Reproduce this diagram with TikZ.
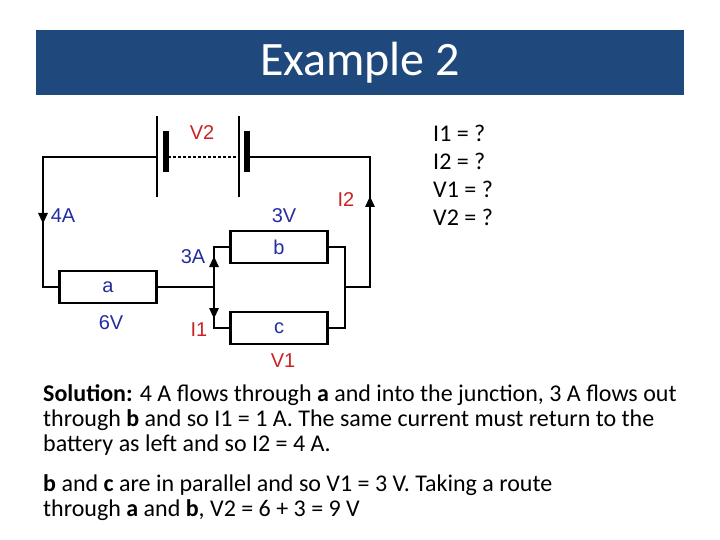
\documentclass[tikz,border=0pt]{standalone}
\usepackage{fontspec}
\setmainfont{Carlito}
\newfontfamily\circfont{Liberation Sans}
\usetikzlibrary{arrows.meta}
\definecolor{titleblue}{RGB}{31,73,125}
\definecolor{lblblue}{RGB}{35,45,160}
\definecolor{lblred}{RGB}{200,35,35}
\begin{document}
\begin{tikzpicture}[x=1pt, y=-1pt,
        wire/.style={draw, line width=2.8pt},
        plate/.style={draw, line width=2.6pt},
        thick plate/.style={draw, line width=6pt},
        res/.style={rectangle, draw, line width=2.8pt, minimum width=97pt, minimum height=32pt, inner sep=0pt, font=\circfont\fontsize{20}{20}\selectfont, text=lblblue},
        tip/.style={draw, line width=2.8pt, -{Triangle[length=11pt, width=9pt]}},
        vlabel/.style={font=\circfont\fontsize{20}{20}\selectfont, text=lblblue},
        qlabel/.style={font=\circfont\fontsize{20}{20}\selectfont, text=lblred},
        body/.style={anchor=west, inner sep=0pt, font=\fontsize{24}{24}\selectfont}
    ]
    \useasboundingbox (0,0) rectangle (720,540);
    % Title
    \fill[titleblue] (36,30) rectangle (684,95);
    \node[text=white, font=\fontsize{48}{48}\selectfont] (title) at (360,63) {Example 2};

    % Resistors
    \node[res] (a) at (108,287) {a};
    \node[res] (b) at (279,247) {b};
    \node[res] (c) at (279,328) {c};

    % Corners and junctions
    \coordinate (tl) at (43,157);
    \coordinate (tr) at (370,157);
    \coordinate (bl) at (43,287);
    \coordinate (br) at (370,287);
    \coordinate (jl) at (214,287);
    \coordinate (jr) at (345,287);
    \coordinate (b1) at (157,157);
    \coordinate (b2) at (168,157);
    \coordinate (b3) at (239,157);
    \coordinate (b4) at (247,157);

    % Battery
    \draw[plate] (157,116) -- (157,197);
    \draw[thick plate] (166,131) -- (166,172);
    \draw[plate] (239,116) -- (239,197);
    \draw[thick plate] (247,131) -- (247,172);
    \draw[line width=2.6pt, dash pattern=on 2.5pt off 2.5pt] (b2) -- (b3);

    % Wires
    \draw[wire] (b1) -- (tl) -- (bl) -- (a.west);
    \draw[wire] (b4) -- (tr) -- (br) -- (jr);
    \draw[wire] (a.east) -- (jl);
    \draw[wire] (b.west) -| (jl) |- (c.west);
    \draw[wire] (b.east) -| (jr) |- (c.east);

    % Current arrows
    \draw[tip] (43,205) -- (43,224);
    \draw[tip] (214,275) -- (214,256);
    \draw[tip] (214,300) -- (214,319);
    \draw[tip] (370,217) -- (370,196);

    % Labels
    \node[qlabel] (v2) at (202,133) {V2};
    \node[vlabel] (i4) at (63,216) {4A};
    \node[vlabel] (v3) at (284,216) {3V};
    \node[qlabel] (i2) at (346,200) {I2};
    \node[vlabel] (i3) at (193,257) {3A};
    \node[vlabel] (v6) at (111,323) {6V};
    \node[qlabel] (i1) at (199,330) {I1};
    \node[qlabel] (v1) at (283,361) {V1};

    % Questions
    \node[body] (q1) at (433,133) {I1 = ?};
    \node[body] (q2) at (433,161) {I2 = ?};
    \node[body] (q3) at (433,189) {V1 = ?};
    \node[body] (q4) at (433,217) {V2 = ?};

    % Solution
    \node[body] (s1) at (43,395) {\textbf{Solution:} 4 A flows through \textbf{a} and into the junction, 3 A flows out};
    \node[body] (s2) at (43,420) {through \textbf{b} and so I1 = 1 A. The same current must return to the};
    \node[body] (s3) at (43,445) {battery as left and so I2 = 4 A.};
    \node[body] (s4) at (43,485) {\textbf{b} and \textbf{c} are in parallel and so V1 = 3 V. Taking a route};
    \node[body] (s5) at (43,510) {through \textbf{a} and \textbf{b}, V2 = 6 + 3 = 9 V};
\end{tikzpicture}
\end{document}
